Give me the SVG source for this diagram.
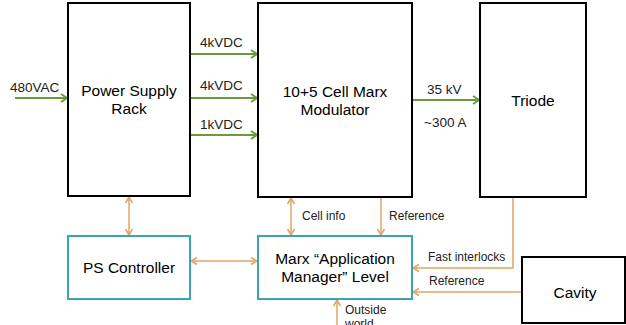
<svg xmlns="http://www.w3.org/2000/svg" width="626" height="325" viewBox="0 0 626 325">
<style>
.box{fill:#fff;stroke:#000;stroke-width:2}
.ctl{fill:#fff;stroke:#3aa3b4;stroke-width:2}
.t{font-family:"Liberation Sans",Arial,sans-serif;font-size:15.5px;fill:#000;text-anchor:middle}
.s{font-family:"Liberation Sans",Arial,sans-serif;font-size:13.5px;fill:#222}
.ss{font-family:"Liberation Sans",Arial,sans-serif;font-size:12px;fill:#222}
.g{stroke:#6a9a3c;stroke-width:2;fill:none;marker-end:url(#ga)}
.o{stroke:#e0a366;stroke-width:1.5;fill:none}
</style>
<defs>
<marker id="ga" markerWidth="10" markerHeight="10" refX="8" refY="5" orient="auto" markerUnits="userSpaceOnUse">
<path d="M2,1 L8,5 L2,9" fill="none" stroke="#6a9a3c" stroke-width="2"/>
</marker>
<marker id="oa" markerWidth="10" markerHeight="10" refX="8" refY="5" orient="auto-start-reverse" markerUnits="userSpaceOnUse">
<path d="M2,1.5 L8,5 L2,8.5" fill="none" stroke="#e0a366" stroke-width="1.5"/>
</marker>
</defs>
<rect width="626" height="325" fill="#fff"/>
<g id="connectors">
<line class="g" x1="15" y1="98" x2="67" y2="98"/>
<line class="g" x1="190" y1="54" x2="257" y2="54"/>
<line class="g" x1="190" y1="98" x2="257" y2="98"/>
<line class="g" x1="190" y1="135" x2="257" y2="135"/>
<line class="g" x1="412" y1="100" x2="479" y2="100"/>
<line class="o" x1="129" y1="197" x2="129" y2="235" marker-start="url(#oa)" marker-end="url(#oa)"/>
<line class="o" x1="191" y1="261" x2="257" y2="261" marker-start="url(#oa)" marker-end="url(#oa)"/>
<line class="o" x1="291" y1="198" x2="291" y2="235" marker-start="url(#oa)" marker-end="url(#oa)"/>
<line class="o" x1="381" y1="198" x2="381" y2="235" marker-end="url(#oa)"/>
<polyline class="o" points="513,198 513,268 413,268" marker-end="url(#oa)"/>
<line class="o" x1="522" y1="292" x2="413" y2="292" marker-end="url(#oa)"/>
<line class="o" x1="337" y1="325" x2="337" y2="300" marker-end="url(#oa)"/>
<text class="s" x="10" y="92">480VAC</text>
<text class="s" x="200" y="47">4kVDC</text>
<text class="s" x="200" y="90">4kVDC</text>
<text class="s" x="200" y="129">1kVDC</text>
<text class="s" x="427" y="94">35 kV</text>
<text class="s" x="424" y="127">~300 A</text>
<text class="ss" x="302" y="220">Cell info</text>
<text class="ss" x="389" y="220">Reference</text>
<text class="ss" x="428" y="261">Fast interlocks</text>
<text class="ss" x="429" y="285">Reference</text>
<text class="ss" x="345" y="314">Outside</text>
<text class="ss" x="345" y="328">world</text>
</g>
<g id="psr">
<rect class="box" x="68" y="3" width="122" height="193"/>
<text class="t" x="129" y="96">Power Supply</text>
<text class="t" x="129" y="114">Rack</text>
</g>
<g id="marx">
<rect class="box" x="258" y="3" width="154" height="194"/>
<text class="t" x="335" y="97">10+5 Cell Marx</text>
<text class="t" x="335" y="115">Modulator</text>
</g>
<g id="triode">
<rect class="box" x="480" y="3" width="106" height="194"/>
<text class="t" x="533" y="106">Triode</text>
</g>
<g id="psc">
<rect class="ctl" x="68" y="236" width="122" height="63"/>
<text class="t" x="129" y="273">PS Controller</text>
</g>
<g id="mam">
<rect class="ctl" x="258" y="236" width="154" height="63"/>
<text class="t" x="335" y="264">Marx “Application</text>
<text class="t" x="335" y="282">Manager” Level</text>
</g>
<g id="cavity">
<rect class="box" x="522" y="257" width="103" height="66"/>
<text class="t" x="575" y="298">Cavity</text>
</g>
</svg>
